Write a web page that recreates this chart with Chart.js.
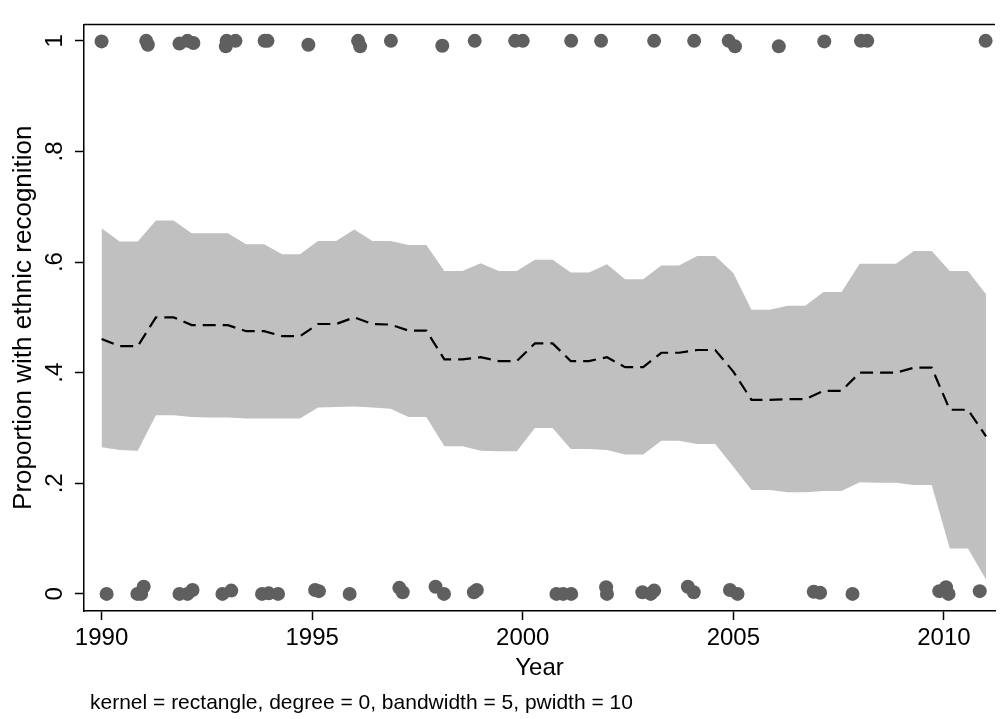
<!DOCTYPE html>
<html>
<head>
<meta charset="utf-8">
<script src="https://cdn.jsdelivr.net/npm/chart.js@4/dist/chart.umd.min.js"></script>
<style>
  html, body { margin: 0; padding: 0; background: #fff; }
  #wrap { width: 1002px; height: 719px; position: relative; }
</style>
</head>
<body>
<div id="wrap"><canvas id="lpolyChart"></canvas></div>
<script>
// lpoly grid (50 points, 1990 - 2011)
const gridYears = [
  1990.00, 1990.43, 1990.86, 1991.29, 1991.71, 1992.14, 1992.57, 1993.00, 1993.43, 1993.86,
  1994.29, 1994.71, 1995.14, 1995.57, 1996.00, 1996.43, 1996.86, 1997.29, 1997.71, 1998.14,
  1998.57, 1999.00, 1999.43, 1999.86, 2000.29, 2000.71, 2001.14, 2001.57, 2002.00, 2002.43,
  2002.86, 2003.29, 2003.71, 2004.14, 2004.57, 2005.00, 2005.43, 2005.86, 2006.29, 2006.71,
  2007.14, 2007.57, 2008.00, 2008.43, 2008.86, 2009.29, 2009.71, 2010.14, 2010.57, 2011.00
];
const upperCI = [
  .661, .637, .637, .675, .675, .652, .652, .652, .632, .632,
  .614, .614, .638, .638, .659, .638, .638, .631, .631, .584,
  .584, .598, .584, .584, .604, .604, .581, .581, .596, .569,
  .569, .594, .594, .611, .611, .580, .514, .514, .521, .521,
  .546, .546, .597, .597, .597, .620, .620, .584, .584, .542
];
const smoothMean = [
  .461, .448, .448, .500, .500, .486, .486, .486, .475, .475,
  .466, .466, .488, .488, .500, .488, .487, .476, .476, .424,
  .424, .428, .421, .421, .453, .453, .421, .421, .428, .410,
  .410, .436, .436, .441, .441, .402, .351, .351, .352, .352,
  .367, .367, .400, .400, .400, .409, .409, .333, .333, .285
];
const lowerCI = [
  .265, .260, .259, .323, .323, .320, .319, .319, .317, .317,
  .317, .317, .337, .338, .339, .337, .335, .320, .320, .267,
  .267, .259, .258, .258, .300, .300, .262, .262, .260, .252,
  .252, .277, .277, .271, .271, .230, .188, .188, .184, .184,
  .186, .186, .202, .201, .201, .197, .197, .082, .082, .026
];

// jittered observations (recognised = 1, not = 0)
const obsYears = [
  1990.00, 1991.06, 1991.10, 1991.85, 1992.04, 1992.18, 1992.95, 1992.97, 1993.18, 1993.87,
  1993.94, 1994.91, 1996.09, 1996.14, 1996.87, 1998.09, 1998.86, 1999.82, 2000.00, 2001.15,
  2001.86, 2003.12, 2004.07, 2004.89, 2005.04, 2006.08, 2007.16, 2008.03, 2008.18, 2010.99,
  1990.12, 1990.85, 1990.94, 1991.00, 1991.85, 1992.04, 1992.16, 1992.87, 1993.08, 1993.81,
  1993.97, 1994.19, 1995.07, 1995.16, 1995.89, 1997.07, 1997.15, 1997.93, 1998.13, 1998.84,
  1998.91, 2000.80, 2000.96, 2001.15, 2001.98, 2002.00, 2002.84, 2003.04, 2003.12, 2003.92,
  2004.06, 2004.92, 2005.10, 2006.91, 2007.06, 2007.83, 2009.89, 2010.05, 2010.11, 2010.85
];
const obsValues = [
  .999, 1.000, .993, .995, 1.000, .996, .990, 1.000, 1.000, 1.000,
  1.000, .993, 1.000, .990, 1.000, .991, 1.000, 1.000, 1.000, 1.000,
  1.000, 1.000, 1.000, 1.000, .990, .990, .999, 1.000, 1.000, 1.000,
  .000, .000, .000, .013, .000, .000, .007, .000, .006, .000,
  .001, .000, .007, .005, .000, .011, .003, .013, .000, .003,
  .007, .000, .000, .000, .012, .000, .003, .000, .006, .013,
  .003, .007, .000, .004, .002, .000, .005, .012, .000, .005
];

const xTicks = [1990, 1995, 2000, 2005, 2010];
const yTicks = [0, .2, .4, .6, .8, 1];
const noteText = 'kernel = rectangle, degree = 0, bandwidth = 5, pwidth = 10';

const FONT = '"Liberation Sans", Arial, Helvetica, sans-serif';

const toPoints = (xs, ys) => xs.map((x, i) => ({ x: x, y: ys[i] }));

// top frame line + note under the graph
const frameAndNote = {
  id: 'frameAndNote',
  afterDraw(chart) {
    const { ctx, chartArea } = chart;
    ctx.save();
    ctx.strokeStyle = '#000';
    ctx.lineWidth = 1.5;
    ctx.beginPath();
    ctx.moveTo(chartArea.left, chartArea.top);
    ctx.lineTo(chartArea.right, chartArea.top);
    ctx.stroke();
    ctx.fillStyle = '#000';
    ctx.font = '21px ' + FONT;
    ctx.textBaseline = 'alphabetic';
    ctx.textAlign = 'left';
    ctx.fillText(noteText, 90, 709);
    ctx.restore();
  }
};

new Chart(document.getElementById('lpolyChart'), {
  type: 'line',
  data: {
    datasets: [
      {
        label: 'obs',
        type: 'scatter',
        data: toPoints(obsYears, obsValues),
        backgroundColor: '#5f5f5f',
        borderWidth: 0,
        pointRadius: 7,
        pointHoverRadius: 7,
        clip: false,
        order: 0
      },
      {
        label: 'lpoly',
        data: toPoints(gridYears, smoothMean),
        borderColor: '#000',
        borderWidth: 2.2,
        borderDash: [13, 7],
        pointRadius: 0,
        fill: false,
        tension: 0,
        order: 1
      },
      {
        label: 'upper',
        data: toPoints(gridYears, upperCI),
        borderWidth: 0,
        borderColor: 'rgba(0,0,0,0)',
        backgroundColor: '#c0c0c0',
        pointRadius: 0,
        fill: '+1',
        tension: 0,
        order: 2
      },
      {
        label: 'lower',
        data: toPoints(gridYears, lowerCI),
        borderWidth: 0,
        borderColor: 'rgba(0,0,0,0)',
        pointRadius: 0,
        fill: false,
        tension: 0,
        order: 3
      }
    ]
  },
  options: {
    responsive: true,
    maintainAspectRatio: false,
    animation: false,
    layout: { padding: { top: 4, right: 0, bottom: 0, left: 0 } },
    plugins: {
      legend: { display: false },
      tooltip: { enabled: false }
    },
    scales: {
      x: {
        type: 'linear',
        min: 1989.583,
        max: 2011.213,
        afterBuildTicks: (scale) => { scale.ticks = xTicks.map(v => ({ value: v })); },
        afterFit: (scale) => { scale.height = 108; },
        border: { display: true, color: '#000', width: 1.5 },
        grid: { display: true, drawOnChartArea: false, drawTicks: true, tickLength: 9, tickColor: '#000', tickWidth: 1.5 },
        ticks: {
          autoSkip: false,
          maxRotation: 0,
          padding: 4,
          color: '#000',
          font: { family: FONT, size: 24 },
          callback: (v) => String(v)
        },
        title: {
          display: true,
          text: 'Year',
          color: '#000',
          font: { family: FONT, size: 24 },
          padding: { top: 0, bottom: 36 }
        }
      },
      y: {
        type: 'linear',
        min: -0.0309,
        max: 1.0297,
        afterBuildTicks: (scale) => { scale.ticks = yTicks.map(v => ({ value: v })); },
        afterFit: (scale) => { scale.width = 84; },
        border: { display: true, color: '#000', width: 1.5 },
        grid: { display: true, drawOnChartArea: false, drawTicks: true, tickLength: 9, tickColor: '#000', tickWidth: 1.5 },
        ticks: {
          autoSkip: false,
          minRotation: 90,
          maxRotation: 90,
          crossAlign: 'center',
          padding: 10,
          color: '#000',
          font: { family: FONT, size: 24 },
          callback: (v) => (v === 0 ? '0' : v === 1 ? '1' : String(v).replace(/^0\./, '.'))
        },
        title: {
          display: true,
          text: 'Proportion with ethnic recognition',
          color: '#000',
          font: { family: FONT, size: 26 },
          padding: { top: 8, bottom: 0 }
        }
      }
    }
  },
  plugins: [frameAndNote]
});
</script>
</body>
</html>
